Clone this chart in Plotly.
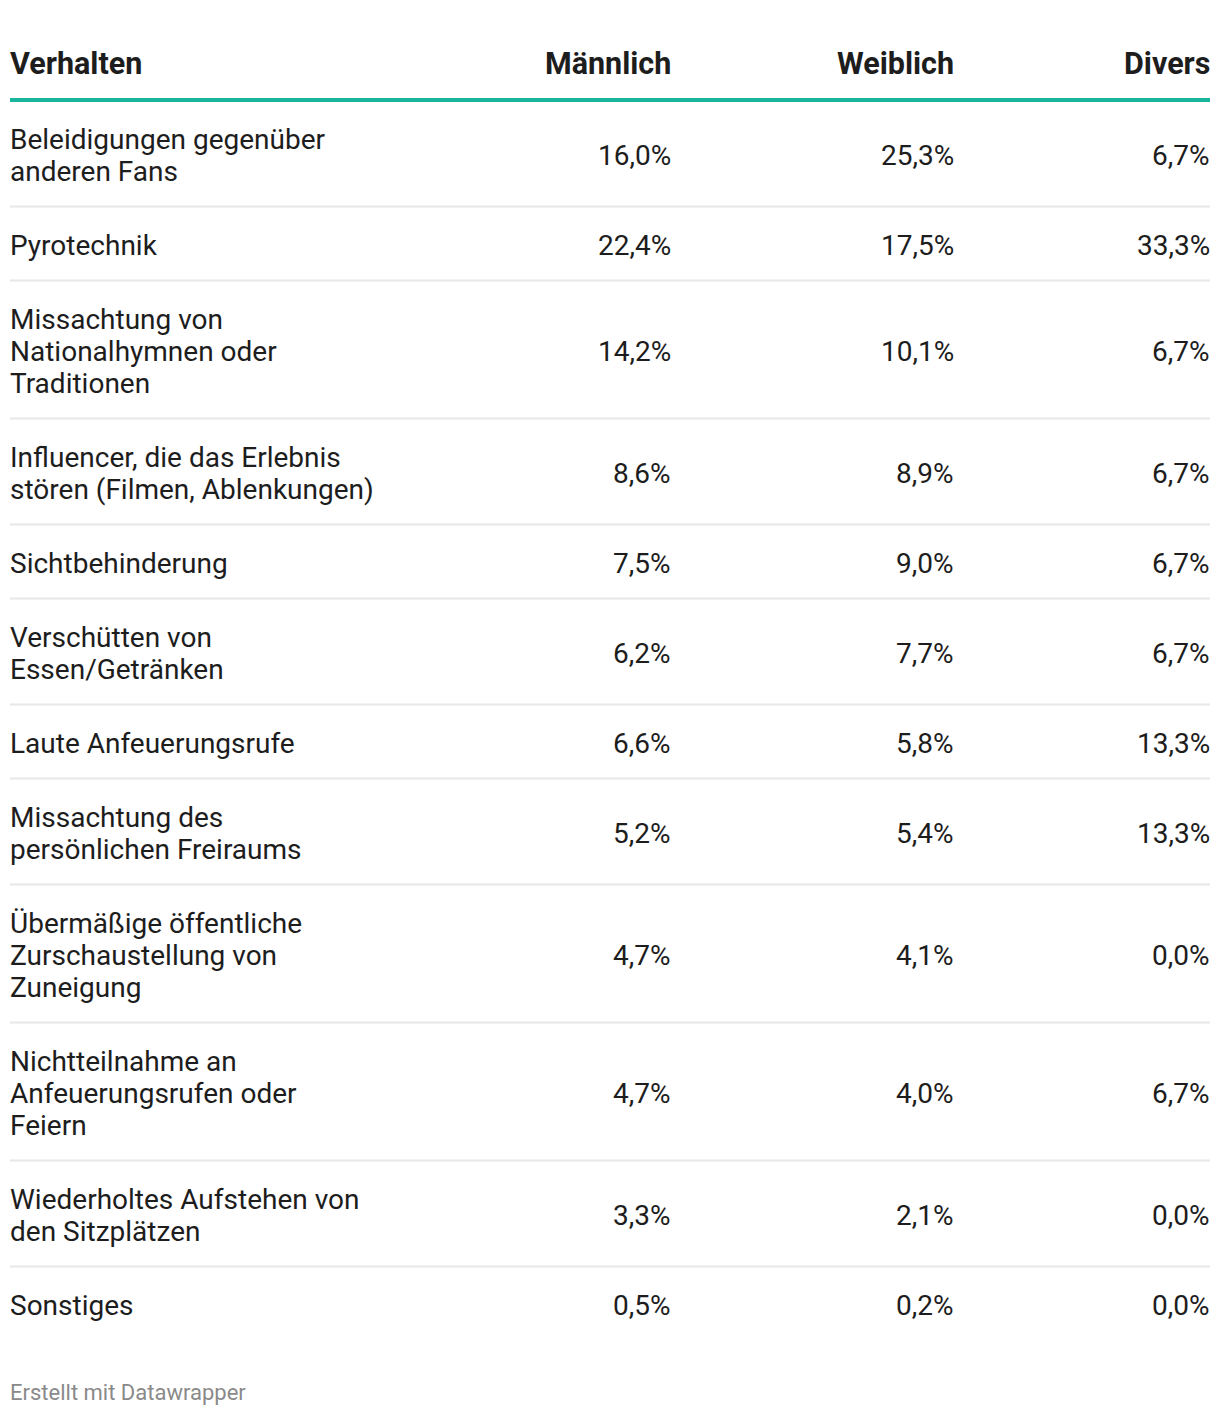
import plotly.graph_objects as go

# ---- data ----
headers = ["Verhalten", "Männlich", "Weiblich", "Divers"]
behaviours = [
    "Beleidigungen gegenüber<br>anderen Fans",
    "Pyrotechnik",
    "Missachtung von<br>Nationalhymnen oder<br>Traditionen",
    "Influencer, die das Erlebnis<br>stören (Filmen, Ablenkungen)",
    "Sichtbehinderung",
    "Verschütten von<br>Essen/Getränken",
    "Laute Anfeuerungsrufe",
    "Missachtung des<br>persönlichen Freiraums",
    "Übermäßige öffentliche<br>Zurschaustellung von<br>Zuneigung",
    "Nichtteilnahme an<br>Anfeuerungsrufen oder<br>Feiern",
    "Wiederholtes Aufstehen von<br>den Sitzplätzen",
    "Sonstiges",
]
maennlich = [16.0, 22.4, 14.2, 8.6, 7.5, 6.2, 6.6, 5.2, 4.7, 4.7, 3.3, 0.5]
weiblich = [25.3, 17.5, 10.1, 8.9, 9.0, 7.7, 5.8, 5.4, 4.1, 4.0, 2.1, 0.2]
divers = [6.7, 33.3, 6.7, 6.7, 6.7, 6.7, 13.3, 13.3, 0.0, 6.7, 0.0, 0.0]
footer = "Erstellt mit Datawrapper"

# ---- layout constants ----
W, H = 1220, 1416
PAGE_MARGIN = 8  # default body margin of the html page
LEFT, RIGHT = 10, 1210
COL_X = [LEFT, 671, 954, 1210]
TEXT_DX = 1
TEXT_DY = 1.5
HEADER_Y = 63
HEADER_LINE_Y = 100
TABLE_TOP = 100.5
LINE_H = 32
ROW_PAD = 42
FONT = "Roboto"
TXT = "#1d1d1d"
BODY_SIZE = 28
HEAD_SIZE = 30.5


def fmt(v):
    return f"{v:.1f}".replace(".", ",") + "%"


annotations = []
# header
for i, h in enumerate(headers):
    annotations.append(dict(
        x=COL_X[i] + (-TEXT_DX if i == 0 else TEXT_DX), y=HEADER_Y,
        xref="x", yref="y", text=f"<b>{h}</b>",
        showarrow=False, xanchor="left" if i == 0 else "right", yanchor="middle",
        font=dict(family=FONT, size=HEAD_SIZE, color=TXT), borderpad=0))

sep_x, sep_y = [], []
y = TABLE_TOP
for r, lab in enumerate(behaviours):
    lines = lab.split("<br>")
    n = len(lines)
    h = ROW_PAD + LINE_H * n
    cy = y + h / 2 + TEXT_DY
    first = cy - (n - 1) * LINE_H / 2
    for k, ln in enumerate(lines):
        annotations.append(dict(
            x=LEFT - TEXT_DX, y=first + k * LINE_H, xref="x", yref="y", text=ln,
            showarrow=False, xanchor="left", yanchor="middle",
            font=dict(family=FONT, size=BODY_SIZE, color=TXT), borderpad=0))
    for c, vals in enumerate([maennlich, weiblich, divers]):
        annotations.append(dict(
            x=COL_X[c + 1] + TEXT_DX, y=cy, xref="x", yref="y", text=fmt(vals[r]),
            showarrow=False, xanchor="right", yanchor="middle",
            font=dict(family=FONT, size=BODY_SIZE, color=TXT), borderpad=0))
    y += h
    if r < len(behaviours) - 1:
        sep_x += [LEFT, RIGHT, None]
        sep_y += [y, y, None]

annotations.append(dict(
    x=LEFT - TEXT_DX, y=1392, xref="x", yref="y", text=footer, showarrow=False,
    xanchor="left", yanchor="middle",
    font=dict(family=FONT, size=22, color="#8a8a8a"), borderpad=0))

fig = go.Figure()
fig.add_trace(go.Scatter(x=sep_x, y=sep_y, mode="lines",
                         line=dict(color="#e8e8e8", width=2),
                         hoverinfo="skip", showlegend=False))
fig.add_trace(go.Scatter(x=[LEFT, RIGHT], y=[HEADER_LINE_Y, HEADER_LINE_Y],
                         mode="lines", line=dict(color="#18b59c", width=4),
                         hoverinfo="skip", showlegend=False))

fig.update_layout(
    width=W - 2 * PAGE_MARGIN, height=H - 2 * PAGE_MARGIN,
    margin=dict(l=0, r=0, t=0, b=0),
    paper_bgcolor="white", plot_bgcolor="white",
    xaxis=dict(range=[PAGE_MARGIN, W - PAGE_MARGIN], visible=False, fixedrange=True),
    yaxis=dict(range=[H - PAGE_MARGIN, PAGE_MARGIN], visible=False, fixedrange=True),
    annotations=annotations, showlegend=False,
)
fig.write_html("out.html")
